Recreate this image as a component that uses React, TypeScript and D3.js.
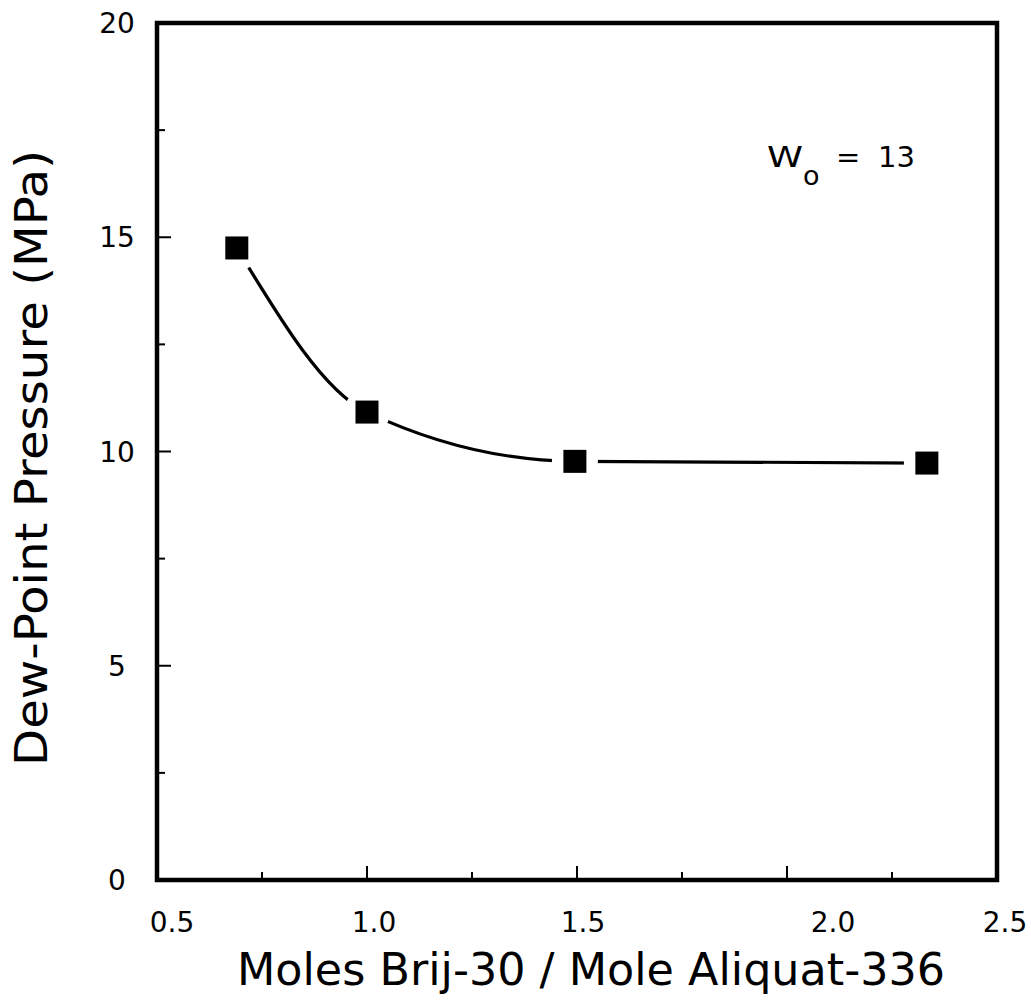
import React from "react";
import * as d3 from "d3";

const ratio = [0.69, 1.0, 1.495, 2.333];
const pressure = [14.75, 10.92, 9.77, 9.73];
const xTicks = [0.5, 1.0, 1.5, 2.0, 2.5];
const xTickLabels = ["0.5", "1.0", "1.5", "2.0", "2.5"];
const xMinor = [0.75, 1.25, 1.75, 2.25];
const yTicks = [0, 5, 10, 15, 20];
const yTickLabels = ["0", "5", "10", "15", "20"];
const yMinor = [2.5, 7.5, 12.5, 17.5];

const W = 1031, H = 1000;
const L = 157, R = 997, T = 23, B = 880;
const FONT = "'DejaVu Sans', 'Liberation Sans', sans-serif";
// hand-placed label nudges seen in the original figure
const xLabelNudge = [15, 7, 6, 46, 8];

export default function App() {
  const x = d3.scaleLinear().domain([0.5, 2.5]).range([L, R]);
  const y = d3.scaleLinear().domain([0, 20]).range([B, T]);
  const pts = ratio.map((r, i) => [r, pressure[i]] as [number, number]);
  const line = d3.line<[number, number]>()
    .x(d => x(d[0])).y(d => y(d[1]))
    .curve(d3.curveMonotoneX);
  const sq = 23;
  return (
    <svg width={W} height={H} style={{ position: "absolute", left: 0, top: 0, background: "#fff" }}>
      <defs>
        <mask id="gap">
          <rect x={0} y={0} width={W} height={H} fill="#fff" />
          {pts.map((p, i) => (
            <circle key={i} cx={x(p[0])} cy={y(p[1])} r={23} fill="#000" />
          ))}
        </mask>
      </defs>
      <rect x={0} y={0} width={W} height={H} fill="#fff" />
      <path d={line(pts) || ""} fill="none" stroke="#000" strokeWidth={3.2} mask="url(#gap)" />
      {pts.map((p, i) => (
        <rect key={i} x={x(p[0]) - sq / 2} y={y(p[1]) - sq / 2} width={sq} height={sq} fill="#000" />
      ))}
      {xTicks.map(t => (
        <line key={"xt" + t} x1={x(t)} x2={x(t)} y1={B} y2={B - 14} stroke="#000" strokeWidth={2} />
      ))}
      {xMinor.map(t => (
        <line key={"xm" + t} x1={x(t)} x2={x(t)} y1={B} y2={B - 8} stroke="#000" strokeWidth={2} />
      ))}
      {yTicks.map(t => (
        <line key={"yt" + t} x1={L} x2={L + 14} y1={y(t)} y2={y(t)} stroke="#000" strokeWidth={2} />
      ))}
      {yMinor.map(t => (
        <line key={"ym" + t} x1={L} x2={L + 8} y1={y(t)} y2={y(t)} stroke="#000" strokeWidth={2} />
      ))}
      <rect x={L} y={T} width={R - L} height={B - T} fill="none" stroke="#000" strokeWidth={4.5} />
      {xTicks.map((t, i) => (
        <text key={"xl" + t} x={x(t) + xLabelNudge[i]} y={932} textAnchor="middle" fontFamily={FONT} fontSize={28} fill="#000">
          {xTickLabels[i]}
        </text>
      ))}
      {yTicks.map((t, i) => (
        <text key={"yl" + t} x={117} y={y(t) + 10} textAnchor="middle" fontFamily={FONT} fontSize={28} fill="#000">
          {yTickLabels[i]}
        </text>
      ))}
      <text x={237} y={985} fontFamily={FONT} fontSize={44} textLength={708} lengthAdjust="spacingAndGlyphs" fill="#000">
        Moles Brij-30 / Mole Aliquat-336
      </text>
      <text transform={`translate(47, 458) rotate(-90)`} textAnchor="middle" fontFamily={FONT} fontSize={45} textLength={616} lengthAdjust="spacingAndGlyphs" fill="#000">
        Dew-Point Pressure (MPa)
      </text>
      <text x={767} y={167} fontFamily={FONT} fontSize={29} fill="#000" textLength={36} lengthAdjust="spacingAndGlyphs">W</text>
      <text x={803} y={185} fontFamily={FONT} fontSize={27} fill="#000">o</text>
      <text x={836} y={167} fontFamily={FONT} fontSize={29} fill="#000">=</text>
      <text x={878} y={167} fontFamily={FONT} fontSize={29} fill="#000">13</text>
    </svg>
  );
}
